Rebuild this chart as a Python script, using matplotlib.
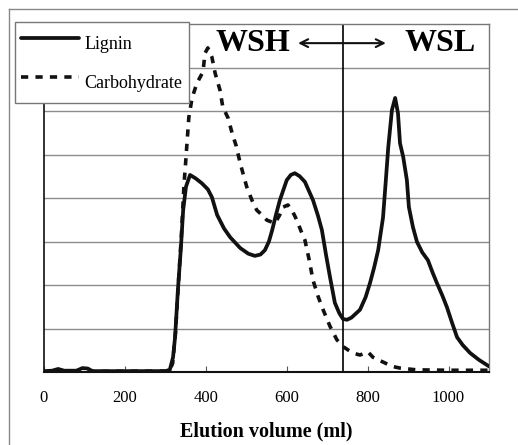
import numpy as np
import matplotlib
matplotlib.use('Agg')
import matplotlib.pyplot as plt
from matplotlib.lines import Line2D

plt.rcParams['font.family'] = ['Liberation Serif', 'DejaVu Serif']

# elution volume (ml) and relative absorbance
lig_ml = [0, 20, 35, 50, 80, 95, 108, 120, 200, 300, 311, 319, 324, 331, 338, 344, 351,
          361, 375, 390, 405, 415, 428, 445, 460, 485, 505, 521, 535, 546, 556, 564, 573,
          583, 600, 610, 620, 632, 645, 665, 677, 687, 697, 707, 719, 730, 739, 749, 760,
          781, 795, 806, 816, 826, 838, 845, 851, 860, 868, 875, 880, 888, 897, 902, 912,
          922, 935, 949, 960, 971, 985, 996, 1008, 1021, 1035, 1053, 1075, 1095, 1100]
lig_val = [0.02, 0.03, 0.07, 0.03, 0.03, 0.09, 0.08, 0.02, 0.02, 0.02, 0.05, 0.34, 0.80,
           1.89, 2.80, 3.72, 4.26, 4.53, 4.45, 4.34, 4.20, 4.02, 3.61, 3.30, 3.10, 2.85,
           2.72, 2.67, 2.70, 2.80, 3.00, 3.26, 3.60, 3.95, 4.41, 4.53, 4.57, 4.50, 4.37,
           3.95, 3.60, 3.26, 2.70, 2.18, 1.59, 1.35, 1.22, 1.20, 1.25, 1.43, 1.72, 2.05,
           2.40, 2.80, 3.55, 4.41, 5.17, 6.02, 6.30, 5.95, 5.26, 4.94, 4.41, 3.79, 3.33,
           2.99, 2.75, 2.57, 2.30, 2.05, 1.75, 1.49, 1.15, 0.80, 0.62, 0.44, 0.28, 0.16, 0.13]

carb_ml = [0, 310, 318, 325, 332, 340, 346, 350, 353, 358, 366, 378, 393, 398, 405, 415,
           423, 435, 442, 455, 465, 475, 485, 501, 514, 526, 540, 551, 571, 582, 591, 603,
           614, 625, 635, 645, 655, 665, 677, 690, 707, 724, 740, 751, 766, 781, 792, 801,
           813, 825, 838, 860, 880, 920, 1000, 1100]
carb_val = [0.01, 0.02, 0.20, 0.90, 2.00, 3.20, 4.30, 4.80, 5.20, 5.85, 6.30, 6.64, 6.90,
            7.33, 7.45, 7.24, 6.87, 6.48, 6.09, 5.84, 5.49, 5.20, 4.80, 4.26, 3.95, 3.72,
            3.60, 3.49, 3.42, 3.60, 3.79, 3.84, 3.70, 3.49, 3.25, 3.03, 2.60, 2.11, 1.75,
            1.43, 1.05, 0.74, 0.58, 0.51, 0.43, 0.39, 0.43, 0.46, 0.34, 0.28, 0.23, 0.13,
            0.09, 0.05, 0.04, 0.04]

xticks = [0, 200, 400, 600, 800, 1000]
split_ml = 740

fig = plt.figure(figsize=(5.18, 4.45), dpi=100)
ax = fig.add_axes([44/518, 1-372/445, 445/518, 348/445])

ax.set_xlim(0, 1100)
ax.set_ylim(0, 8)
for y in range(1, 8):
    ax.axhline(y, color='#8c8c8c', lw=1.0, zorder=1)
ax.axvline(split_ml, color='black', lw=1.2, zorder=2)

ax.plot(lig_ml, lig_val, color='#111111', lw=2.7, label='Lignin', zorder=4,
        solid_joinstyle='round', solid_capstyle='round')
ax.plot(carb_ml, carb_val, color='#111111', lw=2.6, ls=(0, (2.0, 2.0)),
        label='Carbohydrate', zorder=3)

ax.set_xticks(xticks)
ax.set_yticks([])
ax.tick_params(axis='x', direction='in', length=4, width=0.8, pad=13, labelsize=12,
               color='#555555')
ax.set_xlabel('Elution volume (ml)', fontsize=14.5, fontweight='bold', labelpad=11)

for s in ['top', 'right']:
    ax.spines[s].set_linestyle((0, (1, 1)))
    ax.spines[s].set_color('#777777')
    ax.spines[s].set_linewidth(1.0)
ax.spines['left'].set_color('#111111')
ax.spines['left'].set_linewidth(1.2)
ax.spines['bottom'].set_color('#111111')
ax.spines['bottom'].set_linewidth(1.5)

ax.text(517, 7.56, 'WSH', fontsize=23, fontweight='bold', ha='center', va='center', zorder=5)
ax.text(979, 7.56, 'WSL', fontsize=23, fontweight='bold', ha='center', va='center', zorder=5)
ax.annotate('', xy=(628, 7.56), xytext=(845, 7.56),
            arrowprops=dict(arrowstyle='<->', color='#111111', lw=1.5,
                            mutation_scale=14, shrinkA=0, shrinkB=0))

leg = fig.legend(loc='upper left', bbox_to_anchor=(15/518, 1-22/445), borderaxespad=0,
                 fancybox=False, edgecolor='#777777', framealpha=1, fontsize=13,
                 handlelength=3.2, handleheight=2.1, handletextpad=0.3,
                 labelspacing=0.55, borderpad=0.35)
leg.get_frame().set_linewidth(1.0)

# outer frame of the scanned figure (top and left only)
fig.add_artist(Line2D([9/518, 1], [1-9/445, 1-9/445], color='#888888', lw=1.0))
fig.add_artist(Line2D([9/518, 9/518], [0, 1-9/445], color='#888888', lw=1.0))

fig.savefig('out.png', dpi=100)
